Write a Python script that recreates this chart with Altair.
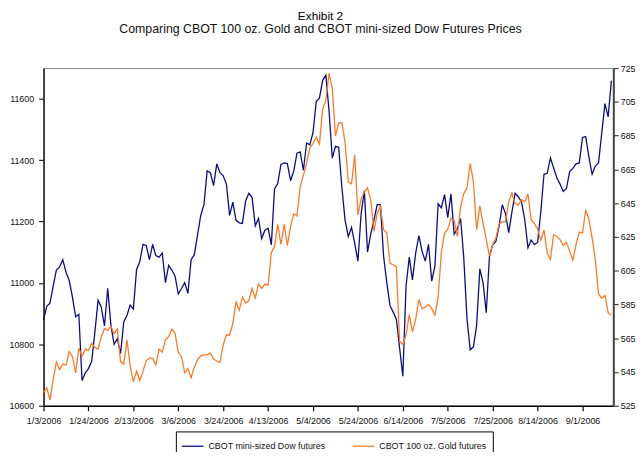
import altair as alt
import pandas as pd

tick_labels = ["1/3/2006", "1/24/2006", "2/13/2006", "3/6/2006", "3/24/2006", "4/13/2006",
               "5/4/2006", "5/24/2006", "6/14/2006", "7/5/2006", "7/25/2006", "8/14/2006", "9/1/2006"]
series_names = ["CBOT mini-sized Dow futures", "CBOT 100 oz.  Gold futures"]

dow = [
    10880, 10924, 10934, 10990, 11042, 11052, 11076, 11035, 11008, 10955,
    10890, 10898, 10682, 10707, 10721, 10745, 10840, 10944, 10921, 10860,
    10983, 10862, 10800, 10819, 10770, 10873, 10894, 10928, 10915, 11044,
    11070, 11126, 11122, 11076, 11126, 11089, 11084, 11097, 11001, 11057,
    11042, 11022, 10964, 10982, 11001, 10966, 11076, 11092, 11156, 11220,
    11255, 11365, 11359, 11317, 11388, 11359, 11349, 11322, 11220, 11263,
    11204, 11196, 11194, 11268, 11292, 11279, 11186, 11210, 11145, 11172,
    11178, 11124, 11306, 11324, 11386, 11391, 11389, 11333, 11365, 11423,
    11427, 11367, 11456, 11450, 11490, 11591, 11602, 11660, 11677, 11560,
    11407, 11445, 11442, 11311, 11204, 11151, 11181, 11129, 11071, 11226,
    11300, 11100, 11161, 11204, 11255, 11255, 11087, 11001, 10926, 10905,
    10881, 10787, 10696, 10990, 11084, 11010, 11097, 11154, 11103, 11071,
    11126, 11006, 11055, 11258, 11245, 11288, 11213, 11290, 11159, 11177,
    11210, 11081, 10883, 10782, 10792, 10862, 11046, 11001, 10903, 11087,
    11124, 11135, 11185, 11255, 11226, 11164, 11231, 11292, 11281, 11263,
    11206, 11115, 11140, 11125, 11132, 11231, 11354, 11357, 11407, 11375,
    11343, 11322, 11298, 11308, 11363, 11373, 11388, 11391, 11474, 11477,
    11410, 11354, 11381, 11391, 11488, 11584, 11541, 11659,
]

gold = [
    532.8, 535.7, 528.3, 540.6, 550.9, 546.4, 549.7, 549.0, 557.1, 554.2,
    544.5, 559.1, 554.2, 558.5, 557.7, 562.0, 559.5, 558.5, 565.9, 570.8,
    569.6, 572.1, 567.7, 570.4, 551.0, 549.7, 564.0, 548.4, 539.2, 545.5,
    540.0, 545.5, 551.7, 553.2, 553.2, 549.0, 558.5, 556.8, 564.0, 565.9,
    570.4, 567.9, 556.6, 554.2, 544.5, 547.0, 541.6, 547.8, 552.3, 554.6,
    555.2, 555.2, 556.2, 552.7, 551.5, 550.7, 561.0, 566.9, 566.9, 573.7,
    586.8, 581.5, 589.3, 585.8, 587.3, 594.5, 588.7, 597.1, 594.5, 597.1,
    596.5, 615.6, 619.5, 632.5, 620.5, 632.5, 619.9, 631.2, 638.6, 637.4,
    654.9, 661.4, 668.6, 677.5, 680.3, 684.0, 680.0, 700.7, 706.0, 722.0,
    713.0, 684.7, 692.5, 692.5, 680.8, 657.5, 656.5, 673.6, 638.0, 647.7,
    651.6, 654.0, 646.8, 628.2, 639.0, 643.2, 629.2, 627.3, 609.3, 608.5,
    607.4, 563.0, 561.4, 566.9, 579.0, 568.8, 576.2, 587.9, 582.5, 583.4,
    585.0, 582.5, 578.6, 589.3, 615.6, 627.3, 629.6, 636.0, 634.5, 625.3,
    642.9, 650.6, 654.0, 668.6, 657.5, 629.2, 643.4, 633.1, 623.4, 613.6,
    620.5, 624.4, 632.7, 634.1, 634.1, 645.8, 651.0, 644.8, 643.8, 647.1,
    645.8, 650.6, 635.1, 633.1, 629.6, 623.0, 629.2, 615.6, 611.7, 626.3,
    625.3, 623.4, 619.9, 621.8, 616.6, 611.1, 620.5, 627.9, 627.3, 640.9,
    635.5, 624.4, 611.7, 591.2, 588.7, 590.3, 580.1, 578.6,
]

dow_ticks = [10600, 10800, 11000, 11200, 11400, 11600]
gold_ticks = [525, 545, 565, 585, 605, 625, 645, 665, 685, 705, 725]

df_dow = pd.DataFrame({"idx": list(range(len(dow))), "price": dow, "series": series_names[0]})
df_gold = pd.DataFrame({"idx": list(range(len(gold))), "price": gold, "series": series_names[1]})

FONT = "Liberation Sans"
label_js = "[" + ",".join("'%s'" % t for t in tick_labels) + "]"

x_enc = alt.X(
    "idx:Q",
    scale=alt.Scale(domain=[0, 177.6], nice=False, zero=False),
    axis=alt.Axis(
        values=[14 * k for k in range(len(tick_labels))],
        labelExpr=label_js + "[round(datum.value/14)]",
        labelOverlap=False, labelFlush=False,
        title=None, grid=False, domainColor="#000000", domainWidth=1.5,
        tickColor="#000000", tickSize=5, tickWidth=1.2, labelFontSize=9,
        labelPadding=6, labelColor="#111111", labelFont=FONT,
    ),
)

color_enc = alt.Color(
    "series:N",
    scale=alt.Scale(domain=series_names, range=["#0c0c84", "#ff7a26"]),
    legend=alt.Legend(
        orient="none", legendX=134, legendY=368, direction="horizontal",
        title=None, symbolType="stroke", symbolSize=484, symbolStrokeWidth=1.3,
        labelFontSize=9, labelFont=FONT, labelColor="#111111", labelLimit=300,
        strokeColor="#000000", fillColor="#ffffff", padding=3, columnPadding=24,
        symbolOffset=2,
    ),
)

dow_line = alt.Chart(df_dow).mark_line(strokeWidth=1.3).encode(
    x=x_enc,
    y=alt.Y(
        "price:Q",
        scale=alt.Scale(domain=[10600, 11700], nice=False, zero=False),
        axis=alt.Axis(
            orient="left", values=dow_ticks, format="d", title=None, grid=False,
            domainColor="#222222", domainWidth=1.6, tickColor="#222222",
            tickSize=5, tickWidth=1.2, labelFontSize=9, labelPadding=5,
            labelColor="#111111", labelFont=FONT,
        ),
    ),
    color=color_enc,
)

gold_line = alt.Chart(df_gold).mark_line(strokeWidth=1.3).encode(
    x=x_enc,
    y=alt.Y(
        "price:Q",
        scale=alt.Scale(domain=[525, 725], nice=False, zero=False),
        axis=alt.Axis(
            orient="right", values=gold_ticks, format="d", title=None, grid=False,
            domainColor="#444444", domainWidth=2, tickColor="#444444",
            tickSize=5, tickWidth=1.2, labelFontSize=9, labelPadding=2,
            labelColor="#111111", labelFont=FONT,
        ),
    ),
    color=color_enc,
)

chart = (
    alt.layer(dow_line, gold_line)
    .resolve_scale(y="independent")
    .properties(
        width=577,
        height=342,
        autosize=alt.AutoSizeParams(type="none"),
        padding={"left": 36, "top": 58, "right": 23, "bottom": 44},
        title=alt.TitleParams(
            text="Exhibit 2",
            subtitle="Comparing CBOT 100 oz. Gold and CBOT mini-sized Dow Futures Prices",
            font="'Liberation Sans Narrow', 'Liberation Sans', sans-serif",
            subtitleFont="'Liberation Sans Narrow', 'Liberation Sans', sans-serif",
            fontSize=12, subtitleFontSize=12.5, fontWeight="normal",
            color="#000000", subtitleColor="#111111",
            anchor="middle", offset=28, subtitlePadding=0, dx=-8,
        ),
    )
    .configure_view(stroke="#8a8a8a", strokeWidth=1)
)

chart.save("out.html", embed_options={"renderer": "svg", "actions": False})
